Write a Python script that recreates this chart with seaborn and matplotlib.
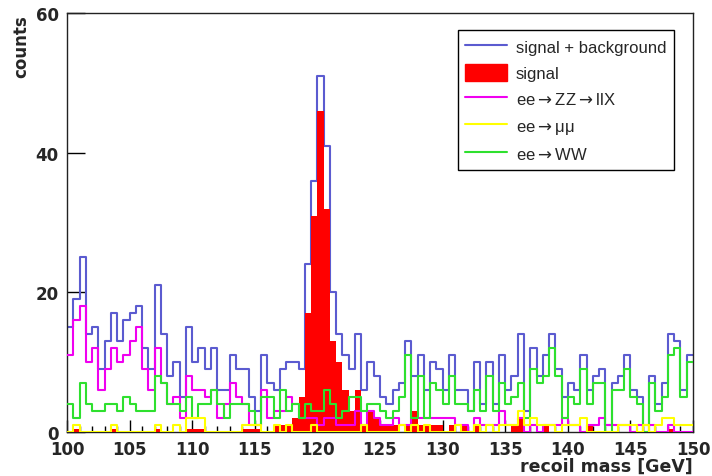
import numpy as np
import pandas as pd
import matplotlib
matplotlib.use("Agg")
import matplotlib.pyplot as plt
import seaborn as sns
from matplotlib.lines import Line2D
from matplotlib.patches import Patch

# ---------------- data (counts per 0.5 GeV bin, 100 -> 150 GeV) ----------------
bin_edges = [100.0 + 0.5 * i for i in range(101)]

sig_plus_bkg = [
    15, 19, 25, 14, 15, 9, 13, 17, 13, 16, 17,
    18, 12, 9, 21, 14, 8, 10, 5, 15, 10, 12,
    9, 12, 6, 6, 11, 9, 9, 5, 3, 11, 7, 6, 9, 10, 10,
    9, 24, 36, 51, 41, 20, 14, 11, 9, 14, 6,
    10, 8, 5, 4, 6, 7, 13, 8, 11, 6, 10, 9, 6, 11, 6, 6, 3, 10,
    4, 10, 4, 11, 6, 8, 14, 3, 12, 8, 11, 14, 9, 5, 7,
    6, 11, 6, 8, 9, 1, 7, 8, 11, 6, 5, 1, 8, 4, 7, 14, 13, 6, 11,
]
signal = [
    0, 0.5, 0, 0, 0, 0, 0, 0.5, 0, 0, 0,
    0, 0, 0, 0.5, 0, 0, 0, 0, 0.5, 0.5, 0.5,
    0, 0, 0, 0, 0, 0, 0.5, 0.5, 0.5, 0, 0, 1, 1, 1, 2,
    5, 17, 31, 46, 32, 13, 10, 6, 3, 6, 1,
    3, 2, 1, 1, 1, 0, 1, 3, 1, 1, 1, 1, 0, 1, 0, 1, 0, 1,
    0, 0, 0, 0, 0, 1, 2, 0, 0, 0, 1, 0, 0, 0, 0,
    0, 0, 1, 0, 0, 0, 0, 0, 0, 0, 0, 0, 0, 0, 0, 0.5, 0, 0, 0,
]
ee_zz = [
    11, 16, 18, 10, 12, 6, 9, 12, 10, 11, 13,
    15, 9, 6, 12, 7, 4, 5, 2, 8, 6, 6,
    5, 6, 2, 4, 7, 5, 4, 1, 1, 6, 2, 3, 3, 5, 4,
    2, 2, 2, 1, 2, 2, 1, 1, 1, 3, 1,
    3, 2, 1, 1, 2, 1, 1, 2, 2, 2, 2, 2, 2, 2, 1, 1, 0, 2,
    1, 1, 1, 3, 1, 1, 2, 0, 1, 0, 1, 1, 1, 2, 1,
    1, 0, 1, 1, 2, 1, 1, 1, 1, 0, 1, 0, 1, 0, 0, 1, 0, 0, 0,
]
ee_mumu = [
    0, 1, 0, 0, 0, 0, 0, 1, 0, 0, 0,
    0, 0, 0, 1, 0, 0, 1, 0, 2, 2, 2,
    0, 0, 0, 0, 0, 0, 1, 1, 1, 0, 0, 1, 0, 1, 0,
    0, 0, 1, 0, 0, 0, 0, 0, 0, 0, 1,
    0, 0, 0, 0, 0, 1, 0, 1, 0, 1, 0, 0, 0, 0, 1, 0, 0, 1,
    0, 1, 0, 1, 1, 1, 3, 1, 2, 1, 1, 1, 0, 1, 1,
    1, 2, 0, 0, 0, 0, 0, 1, 1, 1, 0, 1, 0, 1, 2, 2, 1, 1, 1,
]
ee_ww = [
    4, 2, 7, 4, 3, 3, 4, 4, 3, 5, 4,
    3, 3, 3, 8, 7, 4, 4, 3, 5, 2, 4,
    4, 6, 4, 2, 4, 4, 4, 3, 1, 5, 5, 2, 6, 3, 4,
    2, 4, 3, 3, 6, 4, 2, 3, 5, 5, 3,
    4, 4, 3, 2, 3, 5, 11, 2, 8, 2, 7, 6, 4, 8, 4, 4, 3, 6,
    3, 8, 3, 7, 4, 5, 7, 2, 9, 7, 8, 12, 8, 2, 5,
    4, 9, 4, 7, 7, 0, 6, 6, 9, 5, 4, 0, 7, 3, 5, 11, 12, 5, 10,
]

x_ticks = list(range(100, 151, 5))
y_ticks = [0, 20, 40, 60]
legend_labels = ["signal + background", "signal",
                 "ee$\\rightarrow$ZZ$\\rightarrow$llX",
                 "ee$\\rightarrow$\u03bc\u03bc", "ee$\\rightarrow$WW"]

# ---------------- styling ----------------
sns.set_theme(style="white")
plt.rcParams["font.family"] = ["DejaVu Sans"]
plt.rcParams["mathtext.fontset"] = "dejavusans"

c_blue = "#5b5bd0"
c_red = "#ff0000"
c_mag = "#f000f0"
c_yel = "#ffff00"
c_grn = "#2ee02e"

fig = plt.figure(figsize=(7.12, 4.77), dpi=100)
ax = fig.add_axes([67 / 712, 1 - 433 / 477, 626 / 712, 419 / 477])

centers = [0.5 * (bin_edges[i] + bin_edges[i + 1]) for i in range(len(bin_edges) - 1)]
df = pd.DataFrame({
    "mass": centers,
    "sb": sig_plus_bkg,
    "sig": signal,
    "zz": ee_zz,
    "mumu": ee_mumu,
    "ww": ee_ww,
})
lw = 1.5


def draw(col, color, z, fill=False):
    kws = dict(data=df, x="mass", weights=col, bins=bin_edges, element="step",
               fill=fill, color=color, ax=ax, zorder=z)
    if fill:
        kws.update(alpha=1, linewidth=0)
    else:
        kws.update(linewidth=lw)
    sns.histplot(**kws)


draw("sb", c_blue, 2)
draw("sig", c_red, 3, fill=True)
draw("zz", c_mag, 4)
draw("ww", c_grn, 5)
draw("mumu", c_yel, 6)

ax.set_xlim(100, 150)
ax.set_ylim(0, 60)
ax.set_xlabel("")
ax.set_ylabel("")
ax.set_xticks(x_ticks)
ax.set_xticks(np.arange(100, 151, 1), minor=True)
ax.set_yticks(y_ticks)
ax.tick_params(axis="x", which="major", direction="in", length=9, width=1,
               color="black", pad=6, labelsize=12, bottom=True)
ax.tick_params(axis="x", which="minor", direction="in", length=4.5, width=1,
               color="black", bottom=True)
ax.tick_params(axis="y", which="major", direction="in", length=13, width=1,
               color="black", pad=6, labelsize=12, left=True)
for lab in ax.get_xticklabels() + ax.get_yticklabels():
    lab.set_fontweight("bold")
for s in ax.spines.values():
    s.set_color("#222222")
    s.set_linewidth(1.0)
    s.set_visible(True)

fig.text(693 / 712, 1 - 467 / 477, "recoil mass [GeV]", ha="right", va="center",
         fontsize=12.5, fontweight="bold")
fig.text(21 / 712, 1 - 15 / 477, "counts", ha="center", va="top", rotation=90,
         fontsize=12, fontweight="bold")

handles = [
    Line2D([], [], color=c_blue, linewidth=lw),
    Patch(facecolor=c_red, edgecolor=c_red),
    Line2D([], [], color=c_mag, linewidth=lw),
    Line2D([], [], color=c_yel, linewidth=lw),
    Line2D([], [], color=c_grn, linewidth=lw),
]
leg = ax.legend(handles, legend_labels, loc="upper left",
                bbox_to_anchor=((458 - 67) / 626, (433 - 31) / 419),
                borderaxespad=0, frameon=True, fancybox=False, shadow=False,
                framealpha=1, edgecolor="black",
                prop={"family": ["Liberation Sans", "DejaVu Sans"], "size": 12},
                handlelength=2.5, handleheight=1.2, handletextpad=0.5,
                labelspacing=0.55, borderpad=0.45)
leg.get_frame().set_linewidth(1.0)
leg.set_zorder(10)

fig.savefig("out.png", dpi=100)
